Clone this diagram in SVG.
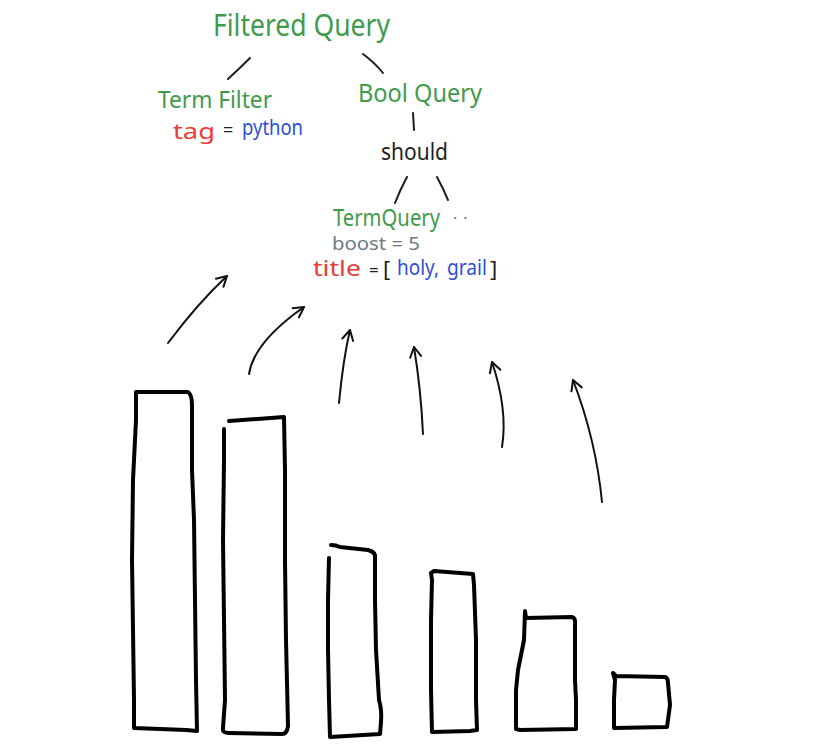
<svg xmlns="http://www.w3.org/2000/svg" width="814" height="748" viewBox="0 0 814 748">
<style>
text{font-family:"Noto Sans","Liberation Sans",sans-serif}
.g{fill:#3f9b4c}
.r{fill:#ec3b35}
.b{fill:#2b50d6}
.k{fill:#1e1e1e}
.s{fill:#6b7a84}
.ln{fill:none;stroke:#1e1e1e;stroke-width:2;stroke-linecap:round}
.ar{fill:none;stroke:#111;stroke-width:2;stroke-linecap:round;marker-end:url(#ah)}
.bar{fill:none;stroke:#000;stroke-width:4;stroke-linejoin:round;stroke-linecap:round}
</style>
<defs>
<marker id="ah" viewBox="-12 -7 14 14" refX="0" refY="0" markerWidth="14" markerHeight="14" markerUnits="userSpaceOnUse" orient="auto">
<path d="M-10,-5.5 L0,0 L-10,5.5" fill="none" stroke="#111" stroke-width="2" stroke-linecap="round" stroke-linejoin="round"/>
</marker>
</defs>
<rect width="814" height="748" fill="#fff"/>

<g id="filtered-query"><text class="g" x="213" y="36" font-size="30" textLength="177" lengthAdjust="spacingAndGlyphs">Filtered Query</text></g>
<g id="term-filter">
<text class="g" x="158" y="108" font-size="24" textLength="114" lengthAdjust="spacingAndGlyphs">Term Filter</text>
<text class="r" x="173" y="139" font-size="21" textLength="42" lengthAdjust="spacingAndGlyphs">tag</text>
<text class="k" x="223" y="136" font-size="18">=</text>
<text class="b" x="242" y="135" font-size="21" textLength="61" lengthAdjust="spacingAndGlyphs">python</text>
</g>
<g id="bool-query"><text class="g" x="358" y="102" font-size="25" textLength="124" lengthAdjust="spacingAndGlyphs">Bool Query</text></g>
<g id="should"><text class="k" x="381" y="160" font-size="24" textLength="67" lengthAdjust="spacingAndGlyphs">should</text></g>
<g id="term-query">
<text class="g" x="333" y="226" font-size="23" textLength="107" lengthAdjust="spacingAndGlyphs">TermQuery</text>
<text class="s" x="453" y="219" font-size="16" letter-spacing="6">..</text>
<text class="s" x="332" y="250" font-size="18" textLength="88" lengthAdjust="spacingAndGlyphs">boost = 5</text>
<text class="r" x="313" y="276" font-size="22" textLength="48" lengthAdjust="spacingAndGlyphs">title</text>
<text class="k" x="369" y="276" font-size="17">=</text>
<text class="k" x="383" y="277" font-size="22">[</text>
<text class="b" x="397" y="275" font-size="21" textLength="42" lengthAdjust="spacingAndGlyphs">holy,</text>
<text class="b" x="447" y="275" font-size="21" textLength="40" lengthAdjust="spacingAndGlyphs">grail</text>
<text class="k" x="490" y="277" font-size="22">]</text>
</g>

<g id="connectors">
<path class="ln" d="M250,58 Q240,68 228,79"/>
<path class="ln" d="M363,54 Q375,63 383,73"/>
<path class="ln" d="M413,113 L414,130"/>
<path class="ln" d="M407,177 Q400,190 395,203"/>
<path class="ln" d="M437,177 Q443,188 448,200"/>
<path class="ar" d="M168,343 Q198,303 227,276"/>
<path class="ar" d="M249,374 Q254,342 304,307"/>
<path class="ar" d="M339,403 Q343,360 350,330"/>
<path class="ar" d="M423,434 Q421,390 414,347"/>
<path class="ar" d="M502,447 Q508,410 492,362"/>
<path class="ar" d="M602,502 Q596,440 573,380"/>
</g>

<g id="bars">
<path class="bar" d="M136,392 L188,392 Q192,395 192,405 L192,470 L194,520 L195,600 L196,680 L197,731 L186,730 L134,728 L134,700 L133,630 L132,560 L133,480 L135,440 L136,420 Z"/>
<path class="bar" d="M229,421 L284,417 L285,470 L285,560 L286,640 L288,726 Q287,734 282,734 L229,733 Q222,733 223,728 L225,700 L224,620 L223,540 L224,460 L224,429"/>
<path class="bar" d="M331,545 Q336,545 340,547 L368,550 Q376,552 375,558 L375,600 L376,650 L379,700 Q382,710 381,722 L380,734 L330,737 L329,700 L328,650 L328,600 L329,558"/>
<path class="bar" d="M431,573 L434,571 L473,574 L474,585 L476,640 L476,700 L477,730 L470,731 L432,732 L431,690 L431,620 L432,580 Z"/>
<path class="bar" d="M525,611 L526,618 L572,617 Q576,618 575,625 L575,680 L576,700 L576,729 L520,730 L516,729 L516,690 L518,670 L520,660 L524,640 Z"/>
<path class="bar" d="M613,673 L616,676 L665,677 Q668,678 668,683 L670,705 L667,727 L614,728 L614,700 L615,680 Z"/>
</g>
</svg>
